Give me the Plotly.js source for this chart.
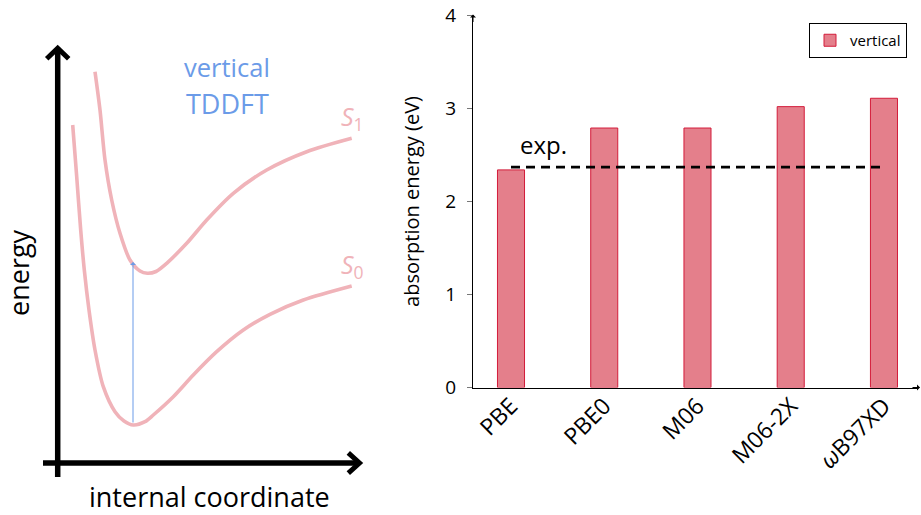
<!DOCTYPE html>
<html>
<head>
<meta charset="utf-8">
<script src="https://cdn.plot.ly/plotly-3.0.1.min.js"></script>
<style>html,body{margin:0;padding:0;background:#fff}#chart{width:921px;height:515px}</style>
</head>
<body>
<div id="chart"></div>
<script>
// ---- Right panel data (bar chart) ----
const methods = ['PBE', 'PBE0', 'M06', 'M06-2X', '<i>ω</i>B97XD'];
const verticalEnergy = [2.34, 2.79, 2.79, 3.02, 3.11];
const expEnergy = 2.37;
const yTicks = [0, 1, 2, 3, 4];

// ---- Left panel data (schematic potential curves; y grows downward) ----
const s1X = [95, 100, 105, 111.7, 120, 130, 140, 147.3, 156, 166.7, 186.7, 206.7, 233.3, 266.7, 306.7, 351.7];
const s1Y = [71.7, 110, 160, 200, 233.3, 260, 271, 273.3, 271.5, 263.3, 243.3, 220, 193.3, 170, 151.7, 138.3];
const s0X = [72.7, 76.7, 80.7, 84.3, 89, 95, 103.3, 115, 124, 133.3, 145, 153.3, 173.3, 193.3, 216.7, 243.3, 270, 303.3, 351.7];
const s0Y = [125, 176.7, 230, 270, 310, 350, 386.7, 411.7, 421, 425, 421.7, 415, 396.7, 375, 351.7, 330, 314.3, 300, 286];
const transitionX = 133;
const transitionFrom = 424;
const transitionTo = 262;

const pink = '#f0b3b9';
const blue = '#6b9be8';
const font = '"Open Sans", Lato, sans-serif';

const xIdx = methods.map((_, i) => i);

const traces = [
  {
    type: 'bar', x: xIdx, y: verticalEnergy, name: 'vertical', width: 0.29,
    marker: {color: '#e47f8b', line: {color: '#d31c3a', width: 1}},
    xaxis: 'x', yaxis: 'y', showlegend: true, hoverinfo: 'skip'
  },
  {
    type: 'scatter', mode: 'lines', x: [0, xIdx.length - 1], y: [expEnergy, expEnergy],
    line: {color: '#000', width: 2.6, dash: '9px,6px'},
    xaxis: 'x', yaxis: 'y', showlegend: false, hoverinfo: 'skip'
  },
  {
    type: 'scatter', mode: 'lines', x: s1X, y: s1Y, line: {color: pink, width: 3.6, shape: 'spline', smoothing: 0.8},
    xaxis: 'x2', yaxis: 'y2', showlegend: false, hoverinfo: 'skip'
  },
  {
    type: 'scatter', mode: 'lines', x: s0X, y: s0Y, line: {color: pink, width: 3.6, shape: 'spline', smoothing: 0.8},
    xaxis: 'x2', yaxis: 'y2', showlegend: false, hoverinfo: 'skip'
  }
];

const layout = {
  width: 921, height: 515,
  margin: {l: 0, r: 0, t: 0, b: 0},
  paper_bgcolor: '#fff', plot_bgcolor: 'rgba(0,0,0,0)',
  font: {family: font, color: '#000'},
  showlegend: true,
  legend: {
    x: 809 / 921, y: 1 - 23 / 515, xanchor: 'left', yanchor: 'top',
    bordercolor: '#000', borderwidth: 1, bgcolor: '#fff',
    font: {family: font, size: 15, color: '#000'}
  },
  xaxis: {
    domain: [473 / 921, 918 / 921], range: [-0.4075, 4.365],
    tickmode: 'array', tickvals: xIdx, ticktext: methods, tickangle: -45,
    tickfont: {family: font, size: 23}, ticks: '', ticklabelstandoff: -5,
    showline: true, linecolor: '#000', linewidth: 1,
    showgrid: false, zeroline: false, anchor: 'y', fixedrange: true
  },
  yaxis: {
    domain: [(515 - 387.5) / 515, (515 - 15.5) / 515], range: [0, 4],
    tickmode: 'array', tickvals: yTicks, ticks: 'outside', ticklen: 5, tickcolor: '#777',
    ticklabelstandoff: 7,
    tickfont: {family: font, size: 19},
    title: {text: 'absorption energy (eV)', font: {family: font, size: 20}, standoff: 20},
    showline: true, linecolor: '#000', linewidth: 1,
    showgrid: false, zeroline: false, anchor: 'x', fixedrange: true
  },
  xaxis2: {domain: [0, 380 / 921], range: [0, 380], visible: false, anchor: 'y2', fixedrange: true},
  yaxis2: {domain: [0, 1], range: [515, 0], visible: false, anchor: 'x2', fixedrange: true},
  shapes: [
    {type: 'line', xref: 'x2', yref: 'y2', x0: 57.7, y0: 477, x1: 57.7, y1: 49, line: {color: '#000', width: 5.5}},
    {type: 'path', xref: 'x2', yref: 'y2', path: 'M46.7,58.8 L57.7,48.3 L68.7,58.8', line: {color: '#000', width: 5}},
    {type: 'line', xref: 'x2', yref: 'y2', x0: 43, y0: 463, x1: 359, y1: 463, line: {color: '#000', width: 5.5}},
    {type: 'path', xref: 'x2', yref: 'y2', path: 'M348.3,452.8 L359.5,463 L348.3,473.2', line: {color: '#000', width: 5}}
  ],
  annotations: [
    // transition arrow
    {xref: 'x2', yref: 'y2', axref: 'x2', ayref: 'y2', x: transitionX, y: transitionTo, ax: transitionX, ay: transitionFrom,
     text: '', showarrow: true, arrowhead: 1, arrowsize: 1, arrowwidth: 1, arrowcolor: blue},
    {xref: 'x2', yref: 'y2', x: 227, y: 67, text: 'vertical', showarrow: false, font: {family: font, size: 25.5, color: blue}},
    {xref: 'x2', yref: 'y2', x: 227, y: 103, text: 'TDDFT', showarrow: false, font: {family: font, size: 27, color: blue}},
    {xref: 'x2', yref: 'y2', x: 352, y: 117, text: '<i>S</i><sub>1</sub>', showarrow: false, font: {family: font, size: 25, color: pink}},
    {xref: 'x2', yref: 'y2', x: 352, y: 265, text: '<i>S</i><sub>0</sub>', showarrow: false, font: {family: font, size: 25, color: pink}},
    {xref: 'x2', yref: 'y2', x: 18, y: 273, text: 'energy', textangle: -90, showarrow: false, font: {family: font, size: 27, color: '#000'}},
    {xref: 'x2', yref: 'y2', x: 209, y: 496, text: 'internal coordinate', showarrow: false, font: {family: font, size: 27, color: '#000'}},
    // exp label
    {xref: 'x', yref: 'y', x: 0.08, y: expEnergy, yshift: 23, xanchor: 'left', text: 'exp.', showarrow: false,
     font: {family: font, size: 24, color: '#000'}},
    // axis arrow tips for the bar chart
    {xref: 'paper', yref: 'y', x: 920 / 921, y: 0, ax: -9, ay: 0, text: '', showarrow: true, arrowhead: 1, arrowsize: 1, arrowwidth: 1, arrowcolor: '#000'},
    {xref: 'x', yref: 'paper', x: -0.4075, y: (515 - 14.5) / 515, ax: 0, ay: 9, text: '', showarrow: true, arrowhead: 1, arrowsize: 1, arrowwidth: 1, arrowcolor: '#000'}
  ]
};

Plotly.newPlot('chart', traces, layout, {displayModeBar: false, staticPlot: true});
</script>
</body>
</html>
